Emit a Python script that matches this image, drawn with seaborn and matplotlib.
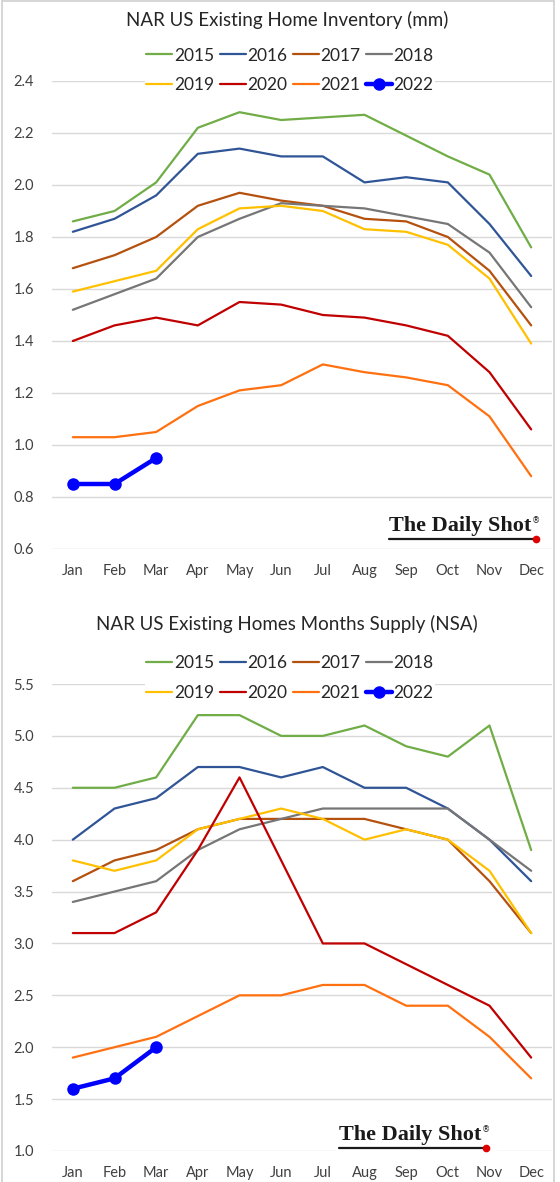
import numpy as np
import pandas as pd
import matplotlib
matplotlib.use('Agg')
import matplotlib.pyplot as plt
import seaborn as sns
from matplotlib.lines import Line2D
from matplotlib.patches import Rectangle

months = ['Jan', 'Feb', 'Mar', 'Apr', 'May', 'Jun', 'Jul', 'Aug', 'Sep', 'Oct', 'Nov', 'Dec']
years = ['2015', '2016', '2017', '2018', '2019', '2020', '2021', '2022']
colors = ['#70AD47', '#2F5597', '#B5510F', '#767676', '#FFC000', '#C00000', '#FF7010', '#0000FF']

# inventory (mm)
inv_2015 = [1.86, 1.90, 2.01, 2.22, 2.28, 2.25, 2.26, 2.27, 2.19, 2.11, 2.04, 1.76]
inv_2016 = [1.82, 1.87, 1.96, 2.12, 2.14, 2.11, 2.11, 2.01, 2.03, 2.01, 1.85, 1.65]
inv_2017 = [1.68, 1.73, 1.80, 1.92, 1.97, 1.94, 1.92, 1.87, 1.86, 1.80, 1.67, 1.46]
inv_2018 = [1.52, 1.58, 1.64, 1.80, 1.87, 1.93, 1.92, 1.91, 1.88, 1.85, 1.74, 1.53]
inv_2019 = [1.59, 1.63, 1.67, 1.83, 1.91, 1.92, 1.90, 1.83, 1.82, 1.77, 1.64, 1.39]
inv_2020 = [1.40, 1.46, 1.49, 1.46, 1.55, 1.54, 1.50, 1.49, 1.46, 1.42, 1.28, 1.06]
inv_2021 = [1.03, 1.03, 1.05, 1.15, 1.21, 1.23, 1.31, 1.28, 1.26, 1.23, 1.11, 0.88]
inv_2022 = [0.85, 0.85, 0.95]

# months supply
sup_2015 = [4.5, 4.5, 4.6, 5.2, 5.2, 5.0, 5.0, 5.1, 4.9, 4.8, 5.1, 3.9]
sup_2016 = [4.0, 4.3, 4.4, 4.7, 4.7, 4.6, 4.7, 4.5, 4.5, 4.3, 4.0, 3.6]
sup_2017 = [3.6, 3.8, 3.9, 4.1, 4.2, 4.2, 4.2, 4.2, 4.1, 4.0, 3.6, 3.1]
sup_2018 = [3.4, 3.5, 3.6, 3.9, 4.1, 4.2, 4.3, 4.3, 4.3, 4.3, 4.0, 3.7]
sup_2019 = [3.8, 3.7, 3.8, 4.1, 4.2, 4.3, 4.2, 4.0, 4.1, 4.0, 3.7, 3.1]
sup_2020 = [3.1, 3.1, 3.3, 3.9, 4.6, 3.8, 3.0, 3.0, 2.8, 2.6, 2.4, 1.9]
sup_2021 = [1.9, 2.0, 2.1, 2.3, 2.5, 2.5, 2.6, 2.6, 2.4, 2.4, 2.1, 1.7]
sup_2022 = [1.6, 1.7, 2.0]

inv = [inv_2015, inv_2016, inv_2017, inv_2018, inv_2019, inv_2020, inv_2021, inv_2022]
sup = [sup_2015, sup_2016, sup_2017, sup_2018, sup_2019, sup_2020, sup_2021, sup_2022]

sns.set_style('white')
plt.rcParams['font.family'] = ['Lato', 'DejaVu Sans']

W, H = 560, 1182
fig = plt.figure(figsize=(W / 100, H / 100), dpi=100)


def fx(px):
    return px / W


def fy(py):
    return 1 - py / H


def draw_panel(ax, series, title, title_y, leg_y, ylim, step):
    for yr, vals, c in zip(years, series, colors):
        df = pd.DataFrame({'m': np.arange(len(vals)), 'v': vals})
        if yr == '2022':
            sns.lineplot(data=df, x='m', y='v', ax=ax, color=c, lw=3.2,
                         marker='o', markersize=9, markeredgewidth=0, label=yr)
        else:
            sns.lineplot(data=df, x='m', y='v', ax=ax, color=c, lw=1.6, label=yr)
    ax.set_xlim(-0.5, 11.5)
    ax.set_ylim(*ylim)
    ax.set_xticks(range(12))
    ax.set_xticklabels(months)
    ax.set_yticks(np.arange(ylim[0], ylim[1] + 0.001, step))
    ax.yaxis.set_major_formatter(matplotlib.ticker.FormatStrFormatter('%.1f'))
    ax.set_xlabel('')
    ax.set_ylabel('')
    ax.grid(axis='y', color='#D9D9D9', lw=1)
    ax.grid(axis='x', visible=False)
    sns.despine(ax=ax, left=True, bottom=True)
    ax.tick_params(axis='both', length=0, labelsize=10.5, colors='#404040')
    ax.tick_params(axis='x', pad=11)
    ax.tick_params(axis='y', pad=13)

    h, l = ax.get_legend_handles_labels()
    order = [0, 4, 1, 5, 2, 6, 3, 7]
    leg = ax.legend([h[i] for i in order], [l[i] for i in order], ncol=4,
                    loc='center', bbox_to_anchor=(fx(290), fy(leg_y)),
                    bbox_transform=fig.transFigure, frameon=True,
                    facecolor='white', edgecolor='none', framealpha=1,
                    fontsize=12.5, handlelength=1.5, handletextpad=0.1,
                    columnspacing=0.3, labelspacing=0.8, borderpad=0.1)
    for t in leg.get_texts():
        t.set_color('#262626')

    fig.text(fx(287), fy(title_y), title, ha='center', va='center',
             fontsize=13.5, color='#262626')


def watermark(x_end, yb):
    # white patch hides the grid line under the logo
    fig.add_artist(Rectangle((fx(x_end - 145), fy(yb + 14)), fx(160), 32 / H,
                             transform=fig.transFigure, color='white', zorder=3))
    t = fig.text(fx(x_end), fy(yb), 'The Daily Shot', ha='right', va='baseline',
                 fontsize=16, fontweight='bold', family='Liberation Serif',
                 color='#1a1a1a', zorder=4)
    fig.canvas.draw()
    bb = t.get_window_extent()
    x_start = bb.x0
    fig.text(fx(x_end + 1), fy(yb - 8), '®', ha='left', va='baseline',
             fontsize=6, family='DejaVu Sans', color='#1a1a1a', zorder=4)
    fig.add_artist(Line2D([fx(x_start), fx(x_end + 4)], [fy(yb + 8), fy(yb + 8)],
                          transform=fig.transFigure, color='#1a1a1a', lw=1.6, zorder=4))
    fig.add_artist(Line2D([fx(x_end + 5)], [fy(yb + 8)], transform=fig.transFigure,
                          marker='o', markersize=4.5, color='#E00000', lw=0, zorder=5))


ax1 = fig.add_axes([fx(52), fy(549), fx(500), (549 - 81) / H])
draw_panel(ax1, inv, 'NAR US Existing Home Inventory (mm)', 20, 70.5,
           (0.6, 2.4), 0.2)

ax2 = fig.add_axes([fx(52), fy(1151), fx(500), (1151 - 684) / H])
draw_panel(ax2, sup, 'NAR US Existing Homes Months Supply (NSA)', 624, 678,
           (1.0, 5.5), 0.5)

watermark(531, 531)
watermark(481, 1140)

# outer border
for xs, ys in [([fx(2), fx(2)], [0, fy(1)]), ([fx(554), fx(554)], [0, fy(1)]),
               ([fx(2), fx(554)], [fy(1), fy(1)])]:
    fig.add_artist(Line2D(xs, ys, transform=fig.transFigure, color='#D0D0D0', lw=1.2))

plt.savefig('out.png', dpi=100)
